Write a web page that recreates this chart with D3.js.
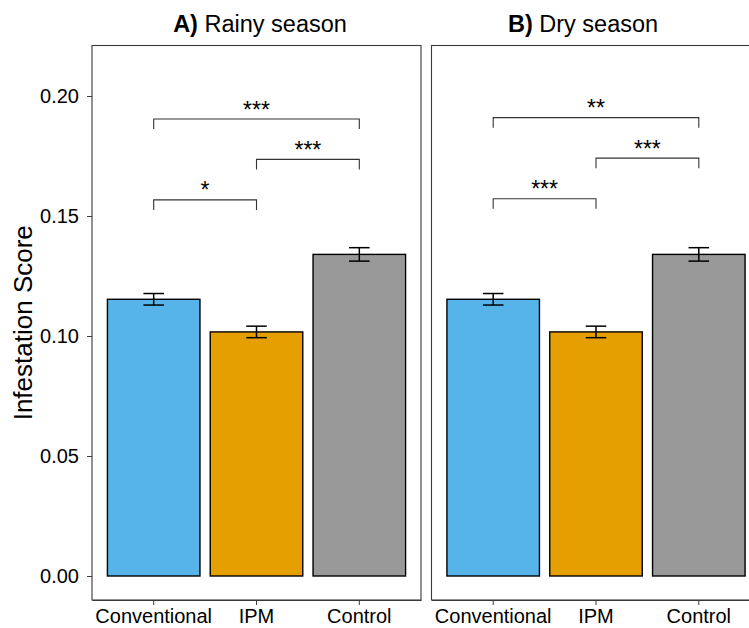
<!DOCTYPE html>
<html>
<head>
<meta charset="utf-8">
<script src="https://cdn.jsdelivr.net/npm/d3@7"></script>
<style>
  body { margin: 0; background: #fff; }
  text { font-family: "Liberation Sans", Arial, Helvetica, sans-serif; }
</style>
</head>
<body>
<div id="chart"></div>
<script>
// treatments and the mean score / standard error per season
const treatments = ["Conventional", "IPM", "Control"]
const barColors = ["#56B4E9", "#E69F00", "#999999"]
const rainyMean = [0.1153, 0.1017, 0.1340]
const rainySe = [0.0024, 0.0024, 0.0028]
const dryMean = [0.1153, 0.1017, 0.1340]
const drySe = [0.0024, 0.0024, 0.0028]
const yTicks = [0, 0.05, 0.10, 0.15, 0.20]

// pairwise comparisons (brackets)
const sigPairs = [["Conventional", "IPM"], ["IPM", "Control"], ["Conventional", "Control"]]
const rainySigY = [0.1567, 0.1736, 0.1904]
const rainySigLabel = ["*", "***", "***"]
const drySigY = [0.1572, 0.1741, 0.1910]
const drySigLabel = ["***", "***", "**"]

const W = 749, H = 628
const plotTop = 45.5, plotBottom = 600
const panelW = 329

const svg = d3.select("#chart").append("svg").attr("width", W).attr("height", H)

const y = d3.scaleLinear().domain([-0.01, 0.22104]).range([plotBottom, plotTop])

const panels = [
  {x0: 92, bold: "A)", title: " Rainy season", titleX: 260, mean: rainyMean, se: rainySe, sigY: rainySigY, sigLab: rainySigLabel, yaxis: true},
  {x0: 431.5, bold: "B)", title: " Dry season", titleX: 583, mean: dryMean, se: drySe, sigY: drySigY, sigLab: drySigLabel, yaxis: false}
]

panels.forEach(p => {
  const x = d3.scaleBand().domain(treatments)
    .range([p.x0, p.x0 + panelW]).paddingInner(0.1).paddingOuter(0.15)
  const data = treatments.map((t, i) => ({t: t, m: p.mean[i], se: p.se[i], c: barColors[i]}))

  // panel frame
  svg.append("rect").attr("x", p.x0).attr("y", plotTop).attr("width", panelW).attr("height", plotBottom - plotTop)
    .attr("fill", "none").attr("stroke", "#3a3a3a").attr("stroke-width", 1.1)

  // bars
  svg.selectAll(null).data(data).enter().append("rect")
    .attr("x", d => x(d.t))
    .attr("width", x.bandwidth())
    .attr("y", d => y(d.m))
    .attr("height", d => y(0) - y(d.m))
    .attr("fill", d => d.c)
    .attr("stroke", "#000").attr("stroke-width", 1.4)

  // error bars
  const eb = svg.selectAll(null).data(data).enter().append("g")
    .attr("stroke", "#000").attr("stroke-width", 1.5)
  const cap = x.step() * 0.1
  eb.append("line").attr("x1", d => x(d.t) + x.bandwidth() / 2).attr("x2", d => x(d.t) + x.bandwidth() / 2)
    .attr("y1", d => y(d.m - d.se)).attr("y2", d => y(d.m + d.se))
  eb.append("line").attr("x1", d => x(d.t) + x.bandwidth() / 2 - cap).attr("x2", d => x(d.t) + x.bandwidth() / 2 + cap)
    .attr("y1", d => y(d.m + d.se)).attr("y2", d => y(d.m + d.se))
  eb.append("line").attr("x1", d => x(d.t) + x.bandwidth() / 2 - cap).attr("x2", d => x(d.t) + x.bandwidth() / 2 + cap)
    .attr("y1", d => y(d.m - d.se)).attr("y2", d => y(d.m - d.se))

  // significance brackets
  const cx = t => x(t) + x.bandwidth() / 2
  sigPairs.forEach((pr, i) => {
    const yy = y(p.sigY[i]), drop = y(p.sigY[i] - 0.0042)
    svg.append("path")
      .attr("d", `M${cx(pr[0])},${drop}V${yy}H${cx(pr[1])}V${drop}`)
      .attr("fill", "none").attr("stroke", "#333").attr("stroke-width", 1.1)
    svg.append("text").attr("x", (cx(pr[0]) + cx(pr[1])) / 2).attr("y", yy - 1.5)
      .attr("text-anchor", "middle").attr("font-size", 23).text(p.sigLab[i])
  })

  // x axis
  const xg = svg.append("g").attr("transform", `translate(0,${plotBottom})`)
    .call(d3.axisBottom(x).tickSize(5).tickSizeOuter(0).tickPadding(4))
  xg.select(".domain").attr("stroke", "#3a3a3a").attr("stroke-width", 1.1)
  xg.selectAll(".tick line").attr("stroke", "#3a3a3a")
  xg.selectAll("text").attr("font-size", 20).attr("fill", "#000")
    .attr("font-family", "'Liberation Sans', Arial, sans-serif")

  // y axis on the left panel only
  if (p.yaxis) {
    const yg = svg.append("g").attr("transform", `translate(${p.x0},0)`)
      .call(d3.axisLeft(y).tickValues(yTicks).tickFormat(d3.format(".2f")).tickSize(5).tickPadding(8))
    yg.select(".domain").remove()
    yg.selectAll(".tick line").attr("stroke", "#3a3a3a")
    yg.selectAll("text").attr("font-size", 20).attr("fill", "#000")
      .attr("font-family", "'Liberation Sans', Arial, sans-serif")
  }

  // panel title
  const tt = svg.append("text").attr("x", p.titleX).attr("y", 32)
    .attr("text-anchor", "middle").attr("font-size", 23.5)
  tt.append("tspan").attr("font-weight", "bold").text(p.bold)
  tt.append("tspan").text(p.title)
})

svg.append("text")
  .attr("transform", `translate(32,${(plotTop + plotBottom) / 2}) rotate(-90)`)
  .attr("text-anchor", "middle").attr("font-size", 26)
  .text("Infestation Score")
</script>
</body>
</html>
